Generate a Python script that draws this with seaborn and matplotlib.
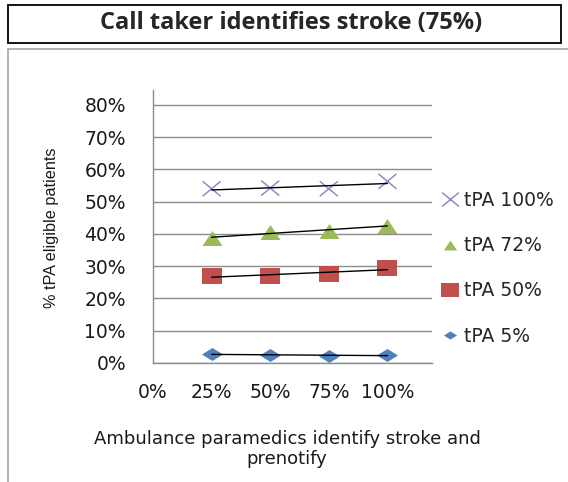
import numpy as np
import pandas as pd
import seaborn as sns
import matplotlib.pyplot as plt
from matplotlib.patches import Rectangle
from matplotlib.lines import Line2D
from matplotlib.path import Path
from matplotlib.ticker import PercentFormatter

# Dados
paramedicos = [0.25, 0.50, 0.75, 1.00]
tpa_5 = [0.028, 0.025, 0.021, 0.025]
tpa_50 = [0.270, 0.270, 0.276, 0.294]
tpa_72 = [0.387, 0.407, 0.410, 0.425]
tpa_100 = [0.540, 0.542, 0.540, 0.563]

series = ["tPA 5%", "tPA 50%", "tPA 72%", "tPA 100%"]
cores = ["#4F81BD", "#C0504D", "#9BBB59", "#9B86C4"]

# marcadores achatados (o grafico original esta esticado na horizontal)
losango = Path([(0, -0.62), (1, 0), (0, 0.62), (-1, 0), (0, -0.62)],
               [Path.MOVETO, Path.LINETO, Path.LINETO, Path.LINETO, Path.CLOSEPOLY])
quadrado = Path([(-1, -0.76), (1, -0.76), (1, 0.76), (-1, 0.76), (-1, -0.76)],
                [Path.MOVETO, Path.LINETO, Path.LINETO, Path.LINETO, Path.CLOSEPOLY])
triangulo = Path([(0, 0.75), (-1, -0.75), (1, -0.75), (0, 0.75)],
                 [Path.MOVETO, Path.LINETO, Path.LINETO, Path.CLOSEPOLY])
xis = Path([(-1, -0.83), (1, 0.83), (-1, 0.83), (1, -0.83)],
           [Path.MOVETO, Path.LINETO, Path.MOVETO, Path.LINETO])
marcadores = [losango, quadrado, triangulo, xis]
tamanhos = [228, 228, 207, 169]
tam_legenda = [9.5, 13, 9.5, 12]

df = pd.DataFrame({
    "x": paramedicos * 4,
    "y": tpa_5 + tpa_50 + tpa_72 + tpa_100,
    "serie": [s for s in series for _ in paramedicos],
})

sns.set_style("white")
plt.rcParams["font.family"] = ["DejaVu Sans"]

fig = plt.figure(figsize=(5.68, 4.82), dpi=100)
ax = fig.add_axes([153 / 568, 1 - 363 / 482, (432 - 153) / 568, (363 - 90) / 482])

for s, c, m, t in zip(series, cores, marcadores, tamanhos):
    d = df[df["serie"] == s]
    if m is xis:
        sns.scatterplot(data=d, x="x", y="y", ax=ax, marker=m, s=t, facecolors="none",
                        edgecolor=c, linewidth=1.1, legend=False, zorder=3)
    else:
        sns.scatterplot(data=d, x="x", y="y", ax=ax, color=c, marker=m, s=t,
                        linewidth=0, legend=False, zorder=3)
    # linha de tendencia
    sns.regplot(data=d, x="x", y="y", ax=ax, scatter=False, ci=None,
                line_kws={"color": "black", "lw": 1.0, "zorder": 4})

ax.set_xlim(0, 1.19)
ax.set_ylim(0, 0.846)
ax.set_xticks([0, 0.25, 0.5, 0.75, 1.0])
ax.set_yticks(np.arange(0, 0.81, 0.1))
ax.xaxis.set_major_formatter(PercentFormatter(1.0, decimals=0))
ax.yaxis.set_major_formatter(PercentFormatter(1.0, decimals=0))
ax.set_xlabel("")
ax.set_ylabel("")
ax.grid(axis="y", color="#8c8c8c", lw=1)
ax.grid(axis="x", visible=False)
for lado in ["top", "right"]:
    ax.spines[lado].set_visible(False)
for lado in ["left", "bottom"]:
    ax.spines[lado].set_color("#8c8c8c")
    ax.spines[lado].set_linewidth(1)
ax.tick_params(axis="both", direction="out", length=6.5, width=1, color="#8c8c8c",
               labelsize=13.5, labelcolor="#1a1a1a")
ax.tick_params(axis="y", pad=13)
ax.tick_params(axis="x", pad=8)

# legenda
handles = []
for c, m, t in zip(cores[::-1], marcadores[::-1], tam_legenda[::-1]):
    if m is xis:
        handles.append(Line2D([], [], ls="", marker=m, color=c, markerfacecolor="none",
                              markersize=t, markeredgewidth=1.1))
    else:
        handles.append(Line2D([], [], ls="", marker=m, color=c, markersize=t, markeredgewidth=0))
fig.legend(handles, series[::-1], loc="upper left", bbox_to_anchor=(441 / 568, 1 - 191 / 482),
           frameon=False, fontsize=13.5, labelspacing=1.4, handlelength=1.0, handletextpad=0.2,
           borderpad=0, borderaxespad=0)

# titulo e molduras
fig.patches.append(Rectangle((8 / 568, 1 - 43 / 482), (561 - 8) / 568, 38 / 482,
                             transform=fig.transFigure, fill=False, ec="black", lw=1.3))
fig.patches.append(Rectangle((8 / 568, -0.1), 1.2, (1 - 49 / 482) + 0.1,
                             transform=fig.transFigure, fill=False, ec="#a6a6a6", lw=1.2))
fig.text(291 / 568, 1 - 23 / 482, "Call taker identifies stroke (75%)", ha="center", va="center",
         fontsize=17, fontweight="bold", family="Open Sans")
fig.text(287 / 568, 1 - 449 / 482, "Ambulance paramedics identify stroke and\nprenotify",
         ha="center", va="center", fontsize=13, color="#1a1a1a")
fig.text(52 / 568, 1 - 228 / 482, "% tPA eligible patients", rotation=90, ha="center", va="center",
         fontsize=11.7, family="Liberation Sans", color="#1a1a1a")

fig.savefig("out.png", dpi=100)
